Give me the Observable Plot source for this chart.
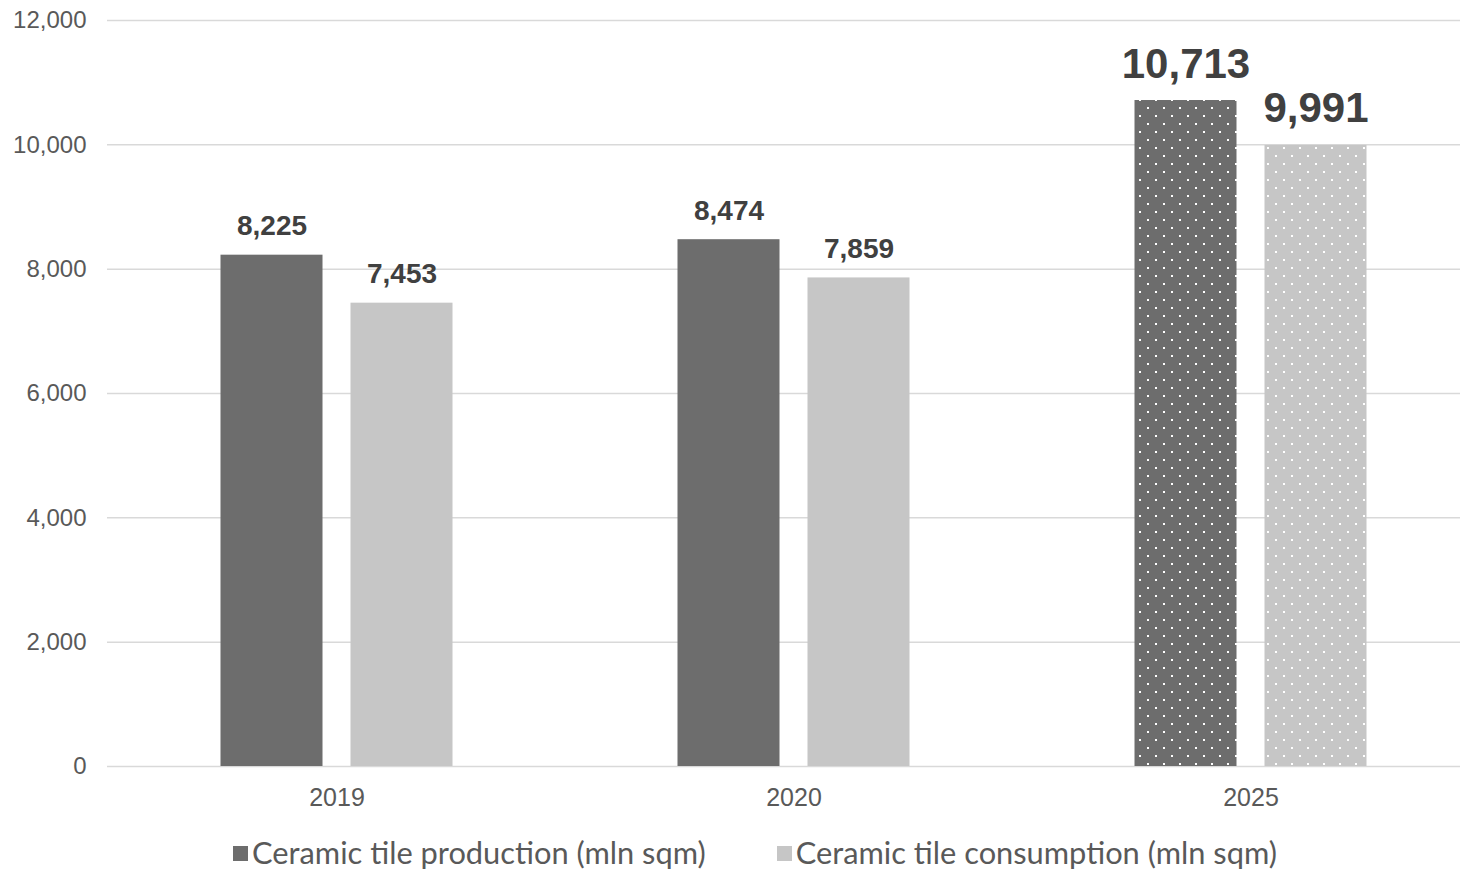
<!DOCTYPE html>
<html><head><meta charset="utf-8">
<script src="https://cdn.jsdelivr.net/npm/d3@7"></script>
<script src="https://cdn.jsdelivr.net/npm/@observablehq/plot@0.6"></script>
<style>
body{margin:0;background:#fff;}
#legend{display:flex;justify-content:center;align-items:center;gap:71px;font-family:Lato,"Open Sans",sans-serif;font-size:30.8px;color:#595959;line-height:32px;padding-top:17px;padding-left:50px;}
#legend .item{display:flex;align-items:center;}
#legend .sw{width:15px;height:15px;margin-right:4px;display:inline-block;}
</style></head>
<body><div id="chart"></div><div id="legend"></div>
<script>
const years = ["2019", "2020", "2025"];
const production = [8225, 8474, 10713];
const consumption = [7453, 7859, 9991];
const seriesNames = ["Ceramic tile production (mln sqm)", "Ceramic tile consumption (mln sqm)"];
const seriesColors = ["#6d6d6d", "#c6c6c6"];
const patternIds = ["dotsDark", "dotsLight"];
const projectedYears = ["2025"];
const yTicks = [0, 2000, 4000, 6000, 8000, 10000, 12000];

const rows = [];
years.forEach((yr, i) => {
  rows.push({year: yr, series: 0, value: production[i], projected: projectedYears.includes(yr)});
  rows.push({year: yr, series: 1, value: consumption[i], projected: projectedYears.includes(yr)});
});

const bandW = 457;
const inset = [[112.5, 242.5], [242.5, 112.5]];
const offs = [-65, 65];

const marks = [Plot.gridY(yTicks, {stroke: "#d9d9d9", strokeOpacity: 1, strokeWidth: 1.5})];
for (let s = 0; s < 2; s++) {
  for (const proj of [false, true]) {
    const d = rows.filter(r => r.series === s && r.projected === proj);
    marks.push(Plot.barY(d, {
      x: "year", y: "value",
      fill: proj ? `url(#${patternIds[s]})` : seriesColors[s],
      insetLeft: inset[s][0], insetRight: inset[s][1]
    }));
    marks.push(Plot.text(d, {
      x: "year", y: "value", text: r => d3.format(",")(r.value),
      dx: offs[s], dy: proj ? -23 : -20, lineAnchor: "bottom",
      fontSize: proj ? 42 : 28, fontWeight: "bold", fill: "#404040"
    }));
  }
}
marks.push(Plot.axisY({ticks: yTicks, tickSize: 0, tickPadding: 21, tickFormat: d3.format(","), fontSize: 24}));
marks.push(Plot.axisX({tickSize: 0, tickPadding: 22, fontSize: 25}));

const chart = Plot.plot({
  width: 1460, height: 820,
  marginLeft: 107, marginRight: 0, marginTop: 20, marginBottom: 54,
  style: {fontFamily: "'Liberation Sans', Arial, sans-serif", fontSize: "24px", color: "#595959", background: "#fff"},
  x: {type: "band", domain: years, range: [107.5, 107.5 + 3 * bandW], padding: 0, label: null},
  y: {domain: [0, 12000], label: null},
  marks
});

const ns = "http://www.w3.org/2000/svg";
const defs = document.createElementNS(ns, "defs");
patternIds.forEach((id, s) => {
  const p = document.createElementNS(ns, "pattern");
  p.setAttribute("id", id);
  p.setAttribute("patternUnits", "userSpaceOnUse");
  p.setAttribute("width", 16); p.setAttribute("height", 16);
  const bg = document.createElementNS(ns, "rect");
  bg.setAttribute("width", 16); bg.setAttribute("height", 16); bg.setAttribute("fill", seriesColors[s]);
  p.appendChild(bg);
  [[3, 3], [11, 11]].forEach(([x, y]) => {
    const r = document.createElementNS(ns, "rect");
    r.setAttribute("x", x); r.setAttribute("y", y); r.setAttribute("width", 2); r.setAttribute("height", 2);
    r.setAttribute("fill", "#fff");
    p.appendChild(r);
  });
  defs.appendChild(p);
});
chart.insertBefore(defs, chart.firstChild);
document.getElementById("chart").appendChild(chart);

const legend = document.getElementById("legend");
seriesNames.forEach((n, i) => {
  const it = document.createElement("div"); it.className = "item";
  const sw = document.createElement("span"); sw.className = "sw"; sw.style.background = seriesColors[i];
  it.appendChild(sw); it.appendChild(document.createTextNode(n));
  legend.appendChild(it);
});
</script></body></html>
